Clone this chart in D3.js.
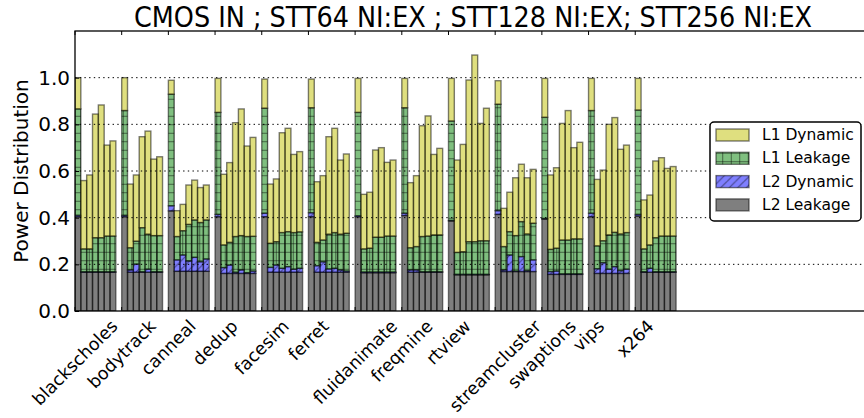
<!DOCTYPE html>
<html>
<head>
<meta charset="utf-8">
<script src="https://cdn.jsdelivr.net/npm/d3@7"></script>
<style>
  html, body { margin: 0; padding: 0; background: #fff; }
  svg { display: block; font-family: "DejaVu Sans", sans-serif; }
</style>
</head>
<body>
<svg id="chart" width="864" height="418"></svg>
<script>
// PARSEC benchmarks, each with seven cache configurations (bar 0 = CMOS baseline)
const benchmarks = ["blackscholes", "bodytrack", "canneal", "dedup", "facesim", "ferret",
  "fluidanimate", "freqmine", "rtview", "streamcluster", "swaptions", "vips", "x264"];

// Power components per benchmark (rows) and configuration (columns)
const l2Leakage = [
  [0.404, 0.166, 0.166, 0.166, 0.166, 0.166, 0.166],
  [0.404, 0.166, 0.166, 0.166, 0.166, 0.166, 0.166],
  [0.429, 0.170, 0.170, 0.170, 0.170, 0.170, 0.170],
  [0.404, 0.161, 0.161, 0.161, 0.161, 0.161, 0.161],
  [0.404, 0.166, 0.166, 0.166, 0.166, 0.166, 0.166],
  [0.404, 0.166, 0.166, 0.166, 0.166, 0.166, 0.166],
  [0.404, 0.164, 0.164, 0.164, 0.164, 0.164, 0.164],
  [0.409, 0.166, 0.166, 0.166, 0.166, 0.166, 0.166],
  [0.386, 0.155, 0.155, 0.155, 0.155, 0.155, 0.155],
  [0.414, 0.169, 0.169, 0.169, 0.169, 0.169, 0.169],
  [0.394, 0.157, 0.157, 0.157, 0.157, 0.157, 0.157],
  [0.404, 0.161, 0.161, 0.161, 0.161, 0.161, 0.161],
  [0.407, 0.166, 0.166, 0.166, 0.166, 0.166, 0.166]
];
const l2Dynamic = [
  [0.006, 0.002, 0.002, 0.002, 0.002, 0.002, 0.002],
  [0.006, 0.010, 0.035, 0.002, 0.013, 0.002, 0.002],
  [0.022, 0.049, 0.070, 0.044, 0.060, 0.041, 0.053],
  [0.010, 0.025, 0.036, 0.005, 0.015, 0.003, 0.010],
  [0.015, 0.021, 0.031, 0.017, 0.024, 0.013, 0.017],
  [0.017, 0.028, 0.045, 0.014, 0.017, 0.010, 0.005],
  [0.004, 0.003, 0.003, 0.003, 0.003, 0.003, 0.003],
  [0.010, 0.010, 0.010, 0.002, 0.002, 0.002, 0.002],
  [0.002, 0.002, 0.002, 0.002, 0.002, 0.002, 0.002],
  [0.016, 0.007, 0.071, 0.002, 0.064, 0.004, 0.050],
  [0.002, 0.012, 0.014, 0.002, 0.002, 0.002, 0.002],
  [0.015, 0.020, 0.046, 0.018, 0.029, 0.012, 0.018],
  [0.007, 0.002, 0.017, 0.002, 0.002, 0.002, 0.002]
];
const l1Leakage = [
  [0.456, 0.098, 0.098, 0.146, 0.146, 0.153, 0.153],
  [0.449, 0.095, 0.098, 0.189, 0.150, 0.155, 0.155],
  [0.478, 0.100, 0.104, 0.157, 0.160, 0.168, 0.167],
  [0.437, 0.097, 0.097, 0.153, 0.147, 0.155, 0.149],
  [0.450, 0.103, 0.100, 0.153, 0.150, 0.157, 0.156],
  [0.450, 0.100, 0.093, 0.149, 0.153, 0.153, 0.162],
  [0.443, 0.099, 0.102, 0.149, 0.149, 0.154, 0.154],
  [0.452, 0.095, 0.100, 0.151, 0.153, 0.158, 0.158],
  [0.426, 0.094, 0.097, 0.140, 0.140, 0.144, 0.144],
  [0.456, 0.100, 0.100, 0.152, 0.150, 0.157, 0.157],
  [0.434, 0.095, 0.098, 0.145, 0.145, 0.150, 0.150],
  [0.440, 0.098, 0.094, 0.147, 0.147, 0.157, 0.157],
  [0.447, 0.098, 0.100, 0.146, 0.153, 0.153, 0.153]
];
const l1Dynamic = [
  [0.134, 0.293, 0.317, 0.530, 0.569, 0.390, 0.408],
  [0.141, 0.273, 0.284, 0.390, 0.442, 0.328, 0.338],
  [0.060, 0.111, 0.113, 0.169, 0.171, 0.150, 0.150],
  [0.146, 0.303, 0.342, 0.488, 0.543, 0.388, 0.424],
  [0.125, 0.254, 0.269, 0.428, 0.443, 0.335, 0.344],
  [0.123, 0.260, 0.276, 0.418, 0.447, 0.318, 0.340],
  [0.146, 0.234, 0.240, 0.374, 0.384, 0.316, 0.326],
  [0.126, 0.279, 0.304, 0.475, 0.515, 0.345, 0.371],
  [0.183, 0.396, 0.460, 0.693, 0.800, 0.503, 0.568],
  [0.101, 0.164, 0.169, 0.248, 0.246, 0.241, 0.231],
  [0.167, 0.319, 0.345, 0.500, 0.555, 0.391, 0.414],
  [0.138, 0.285, 0.303, 0.474, 0.492, 0.363, 0.375],
  [0.136, 0.210, 0.214, 0.329, 0.336, 0.290, 0.298]
];

const seriesKeys = ["L2 Leakage", "L2 Dynamic", "L1 Leakage", "L1 Dynamic"];
const seriesColors = ["#000000", "#0000ff", "#008000", "#bfbf00"];
const seriesHatch = [null, "diag", "cross", null];
const yTicks = [0.0, 0.2, 0.4, 0.6, 0.8, 1.0];
const titleText = "CMOS IN ; STT64 NI:EX ; STT128 NI:EX; STT256 NI:EX";
const yLabel = "Power Distribution";

const barsPerGroup = 7;
const slot = 1 / 8;

const svg = d3.select("#chart");
const W = 864, H = 418;
const margin = { left: 75, top: 31, bottom: 311, right: 871 };

const x = d3.scaleLinear().domain([0, 17.05]).range([margin.left, margin.right]);
const y = d3.scaleLinear().domain([0, 1.2]).range([margin.bottom, margin.top]);

// flat rows: one per bar, stacked through d3.stack
const rows = [];
benchmarks.forEach((b, i) => {
  for (let j = 0; j < barsPerGroup; j++) {
    rows.push({
      group: i, bar: j,
      "L2 Leakage": l2Leakage[i][j],
      "L2 Dynamic": l2Dynamic[i][j],
      "L1 Leakage": l1Leakage[i][j],
      "L1 Dynamic": l1Dynamic[i][j]
    });
  }
});
const stacked = d3.stack().keys(seriesKeys)(rows);

// hatch patterns
const defs = svg.append("defs");
const hs = 8.5;
const cross = defs.append("pattern").attr("id", "cross")
  .attr("patternUnits", "userSpaceOnUse").attr("width", hs).attr("height", hs)
  .attr("y", H % hs);
cross.append("line").attr("x1", 0).attr("x2", hs).attr("y1", hs / 2).attr("y2", hs / 2)
  .attr("stroke", "#000").attr("stroke-opacity", 0.5).attr("stroke-width", 1);
cross.append("line").attr("y1", 0).attr("y2", hs).attr("x1", hs / 2).attr("x2", hs / 2)
  .attr("stroke", "#000").attr("stroke-opacity", 0.5).attr("stroke-width", 1);
const diag = defs.append("pattern").attr("id", "diag")
  .attr("patternUnits", "userSpaceOnUse").attr("width", hs).attr("height", hs);
[-1, 0, 1].forEach(k => {
  diag.append("line")
    .attr("x1", k * hs).attr("y1", hs).attr("x2", k * hs + hs).attr("y2", 0)
    .attr("stroke", "#000").attr("stroke-opacity", 0.5).attr("stroke-width", 1);
});
defs.append("clipPath").attr("id", "plotclip").append("rect")
  .attr("x", margin.left).attr("y", margin.top)
  .attr("width", margin.right - margin.left).attr("height", margin.bottom - margin.top);

const bw = x(slot) - x(0);
const plot = svg.append("g").attr("clip-path", "url(#plotclip)");

// bars
stacked.forEach((layer, k) => {
  const g = plot.append("g");
  const sel = g.selectAll("g.seg").data(layer).join("g").attr("class", "seg");
  const rx = d => x(d.data.group + d.data.bar * slot);
  const ry = d => y(d[1]);
  const rh = d => y(d[0]) - y(d[1]);
  sel.append("rect")
    .attr("x", rx).attr("y", ry).attr("width", bw).attr("height", rh)
    .attr("fill", seriesColors[k]).attr("fill-opacity", 0.5);
  if (seriesHatch[k]) {
    sel.append("rect")
      .attr("x", rx).attr("y", ry).attr("width", bw).attr("height", rh)
      .attr("fill", `url(#${seriesHatch[k]})`);
  }
  sel.append("rect")
    .attr("x", rx).attr("y", ry).attr("width", bw).attr("height", rh)
    .attr("fill", "none").attr("stroke", "#000").attr("stroke-opacity", 0.5)
    .attr("stroke-width", 1.4);
});

// dotted grid
const grid = svg.append("g");
grid.selectAll("line").data(yTicks.filter(t => t > 0)).join("line")
  .attr("x1", margin.left).attr("x2", margin.right)
  .attr("y1", d => y(d)).attr("y2", d => y(d))
  .attr("stroke", "#000").attr("stroke-width", 1)
  .attr("stroke-dasharray", "1.4,3.3");

// frame
svg.append("rect")
  .attr("x", margin.left).attr("y", margin.top)
  .attr("width", margin.right - margin.left).attr("height", margin.bottom - margin.top)
  .attr("fill", "none").attr("stroke", "#000").attr("stroke-width", 1.3);

// y axis
const yAxis = d3.axisLeft(y).tickValues(yTicks).tickFormat(d3.format(".1f"))
  .tickSizeInner(-4).tickSizeOuter(0).tickPadding(5);
const gy = svg.append("g").attr("transform", `translate(${margin.left},0)`).call(yAxis);
gy.select(".domain").remove();
gy.selectAll("text").attr("font-size", 20).attr("fill", "#000")
  .attr("font-family", "DejaVu Sans");

// x ticks (inside, bottom and top)
const xt = d3.range(benchmarks.length);
svg.append("g").selectAll("line").data(xt).join("line")
  .attr("x1", d => x(d)).attr("x2", d => x(d))
  .attr("y1", margin.bottom).attr("y2", margin.bottom - 4)
  .attr("stroke", "#000").attr("stroke-width", 1);
svg.append("g").selectAll("line").data(xt).join("line")
  .attr("x1", d => x(d)).attr("x2", d => x(d))
  .attr("y1", margin.top).attr("y2", margin.top + 4)
  .attr("stroke", "#000").attr("stroke-width", 1);

// rotated benchmark labels, centred on their tick
const fs = 17.5;
const labels = svg.append("g").selectAll("text").data(benchmarks).join("text")
  .attr("font-size", fs).attr("text-anchor", "middle")
  .attr("dominant-baseline", "central").attr("fill", "#000")
  .text(d => d);
labels.each(function (d, i) {
  const L = this.getComputedTextLength();
  const half = (L + fs * 1.0) / (2 * Math.SQRT2);
  const cx = x(i), cy = margin.bottom + 6 + half;
  d3.select(this).attr("transform", `translate(${cx},${cy}) rotate(-45)`);
});

// y label
svg.append("text")
  .attr("transform", `translate(28,${(margin.top + margin.bottom) / 2}) rotate(-90)`)
  .attr("text-anchor", "middle").attr("font-size", 20).attr("fill", "#000")
  .text(yLabel);

// title
svg.append("text")
  .attr("x", (margin.left + margin.right) / 2).attr("y", 27)
  .attr("text-anchor", "middle").attr("font-size", 28)
  .attr("font-family", "DejaVu Sans Condensed, DejaVu Sans")
  .attr("textLength", 678).attr("lengthAdjust", "spacingAndGlyphs")
  .attr("fill", "#000")
  .text(titleText);

// legend
const legendItems = seriesKeys.map((k, i) => ({ key: k, i })).reverse();
const lg = svg.append("g").attr("transform", "translate(710,122)");
lg.append("rect").attr("width", 151).attr("height", 99).attr("rx", 4)
  .attr("fill", "#fff").attr("stroke", "#000").attr("stroke-width", 1.5);
legendItems.forEach((it, r) => {
  const cy = 13 + r * 23.3;
  const g = lg.append("g");
  g.append("rect").attr("x", 6).attr("y", cy - 6).attr("width", 33).attr("height", 12)
    .attr("fill", seriesColors[it.i]).attr("fill-opacity", 0.5);
  if (seriesHatch[it.i]) {
    g.append("rect").attr("x", 6).attr("y", cy - 6).attr("width", 33).attr("height", 12)
      .attr("fill", `url(#${seriesHatch[it.i]})`);
  }
  g.append("rect").attr("x", 6).attr("y", cy - 6).attr("width", 33).attr("height", 12)
    .attr("fill", "none").attr("stroke", "#000").attr("stroke-opacity", 0.5)
    .attr("stroke-width", 1.4);
  g.append("text").attr("x", 52).attr("y", cy).attr("dominant-baseline", "central")
    .attr("font-size", 15.5).attr("fill", "#000").text(it.key);
});
</script>
</body>
</html>
